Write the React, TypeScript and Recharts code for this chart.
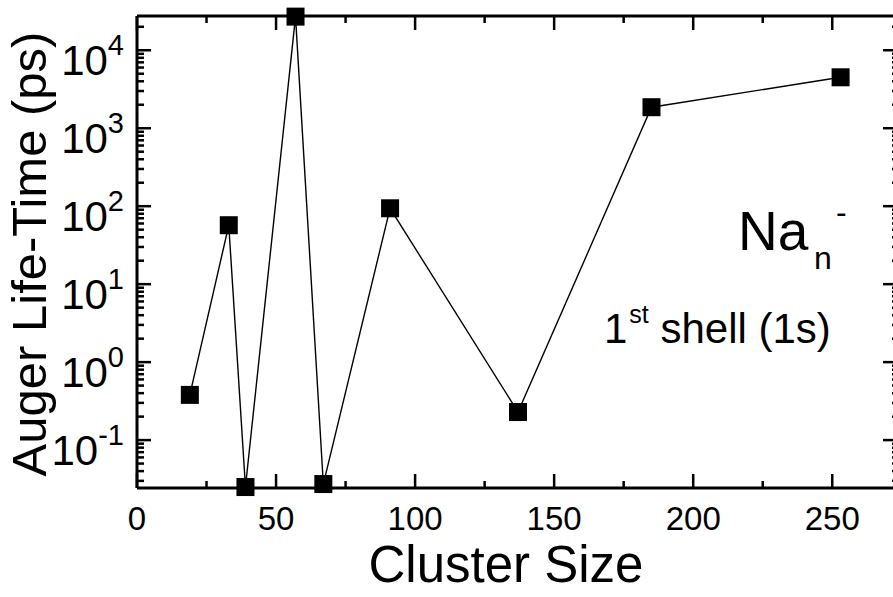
import { LineChart, Line, XAxis, YAxis } from "recharts";

// Auger life-time of the 1s shell for Na_n^- clusters
const clusterSizes = [19, 33, 39, 57, 67, 91, 137, 185, 253];
const lifeTimes = [0.38, 57, 0.025, 27000, 0.0273, 94, 0.229, 1860, 4500];

const xMajorTicks = [0, 50, 100, 150, 200, 250];
const xMinorTicks = [25, 75, 125, 175, 225];
const yMajorTicks = [0.1, 1, 10, 100, 1000, 10000];
const yMinorTicks = [
  0.03, 0.04, 0.05, 0.06, 0.07, 0.08, 0.09,
  0.2, 0.3, 0.4, 0.5, 0.6, 0.7, 0.8, 0.9,
  2, 3, 4, 5, 6, 7, 8, 9,
  20, 30, 40, 50, 60, 70, 80, 90,
  200, 300, 400, 500, 600, 700, 800, 900,
  2000, 3000, 4000, 5000, 6000, 7000, 8000, 9000,
  20000,
];

const data = clusterSizes.map((size, i) => ({ size, life: lifeTimes[i] }));
const xTicks = [...xMajorTicks, ...xMinorTicks].sort((a, b) => a - b);
const yTicks = [...yMajorTicks, ...yMinorTicks].sort((a, b) => a - b);

const FONT = "'Liberation Sans', Arial, Helvetica, sans-serif";
const X_DOMAIN = [0, 274];
const Y_DOMAIN = [0.0243, 27500];
const MAJOR = 14;
const MINOR = 7;

const isMajorX = (v: number) => xMajorTicks.includes(v);
const isMajorY = (v: number) => yMajorTicks.some((t) => Math.abs(t - v) < t * 1e-6);

function BottomTick({ x, y, payload }: any) {
  const major = isMajorX(payload.value);
  return (
    <g>
      <line x1={x} x2={x} y1={y} y2={y - (major ? MAJOR : MINOR)} stroke="#000" strokeWidth={2.5} />
      {major && (
        <text x={x} y={y + 42} textAnchor="middle" fontSize={33} fontFamily={FONT} fill="#000">
          {payload.value}
        </text>
      )}
    </g>
  );
}

function TopTick({ x, y, payload }: any) {
  const major = isMajorX(payload.value);
  return <line x1={x} x2={x} y1={y} y2={y + (major ? MAJOR : MINOR)} stroke="#000" strokeWidth={2.5} />;
}

function LeftTick({ x, y, payload }: any) {
  const major = isMajorY(payload.value);
  const exp = Math.round(Math.log10(payload.value));
  return (
    <g>
      <line x1={x} x2={x + (major ? MAJOR : MINOR)} y1={y} y2={y} stroke="#000" strokeWidth={2.5} />
      {major && (
        <text x={x - 13} y={y + 25} textAnchor="end" fontSize={42} fontFamily={FONT} fill="#000">
          10
          <tspan fontSize={29} dy={-20}>
            {exp}
          </tspan>
        </text>
      )}
    </g>
  );
}

function RightTick({ x, y, payload }: any) {
  const major = isMajorY(payload.value);
  return <line x1={x} x2={x - (major ? MAJOR + 2 : MINOR)} y1={y} y2={y} stroke="#000" strokeWidth={2.5} />;
}

const SquareDot = (props: any) => {
  const { cx, cy, index } = props;
  return <rect key={`dot-${index}`} x={cx - 9} y={cy - 9} width={18} height={18} fill="#000" />;
};

export default function App() {
  return (
    <div style={{ position: "absolute", left: 0, top: 0, width: 893, height: 597, overflow: "hidden", background: "#fff" }}>
      <LineChart width={920} height={597} data={data} margin={{ top: 0, right: 0, bottom: 0, left: 0 }}>
        <XAxis
          dataKey="size"
          type="number"
          domain={X_DOMAIN}
          ticks={xTicks}
          interval={0}
          height={109}
          tickSize={0}
          tickMargin={0}
          tickLine={false}
          axisLine={{ stroke: "#000", strokeWidth: 3 }}
          tick={<BottomTick />}
        />
        <XAxis
          xAxisId="top"
          orientation="top"
          dataKey="size"
          type="number"
          domain={X_DOMAIN}
          ticks={xTicks}
          interval={0}
          height={16}
          tickSize={0}
          tickMargin={0}
          tickLine={false}
          axisLine={{ stroke: "#000", strokeWidth: 3 }}
          tick={<TopTick />}
        />
        <YAxis
          scale="log"
          type="number"
          domain={Y_DOMAIN}
          ticks={yTicks}
          interval={0}
          width={137}
          tickSize={0}
          tickMargin={0}
          tickLine={false}
          axisLine={{ stroke: "#000", strokeWidth: 3 }}
          tick={<LeftTick />}
        />
        <YAxis
          yAxisId="right"
          orientation="right"
          scale="log"
          type="number"
          domain={Y_DOMAIN}
          ticks={yTicks}
          interval={0}
          width={21}
          tickSize={0}
          tickMargin={0}
          tickLine={false}
          axisLine={{ stroke: "#000", strokeWidth: 3 }}
          tick={<RightTick />}
        />
        {/* invisible twin so the frame axes (top/right) get their ticks */}
        <Line
          xAxisId="top"
          yAxisId="right"
          type="linear"
          dataKey="life"
          stroke="none"
          dot={false}
          activeDot={false}
          legendType="none"
          isAnimationActive={false}
        />
        <Line
          type="linear"
          dataKey="life"
          stroke="#000"
          strokeWidth={1.4}
          dot={SquareDot}
          activeDot={false}
          isAnimationActive={false}
        />
      </LineChart>
      <svg width={893} height={597} style={{ position: "absolute", left: 0, top: 0, pointerEvents: "none" }}>
        <text
          transform="translate(46,254) rotate(-90)"
          textAnchor="middle"
          fontSize={49}
          fontFamily={FONT}
          fill="#000"
        >
          Auger Life-Time (ps)
        </text>
        <text x={506} y={582} textAnchor="middle" fontSize={51} fontFamily={FONT} fill="#000">
          Cluster Size
        </text>
        <text x={738} y={250} fontSize={55} fontFamily={FONT} fill="#000">
          Na
        </text>
        <text x={814} y={269} fontSize={32} fontFamily={FONT} fill="#000">
          n
        </text>
        <text x={836} y={223} fontSize={32} fontFamily={FONT} fill="#000">
          -
        </text>
        <text x={604} y={343} fontSize={42} fontFamily={FONT} fill="#000">
          1
          <tspan fontSize={25} dy={-20} dx={2}>
            st
          </tspan>
          <tspan dy={20}> shell (1s)</tspan>
        </text>
      </svg>
    </div>
  );
}
